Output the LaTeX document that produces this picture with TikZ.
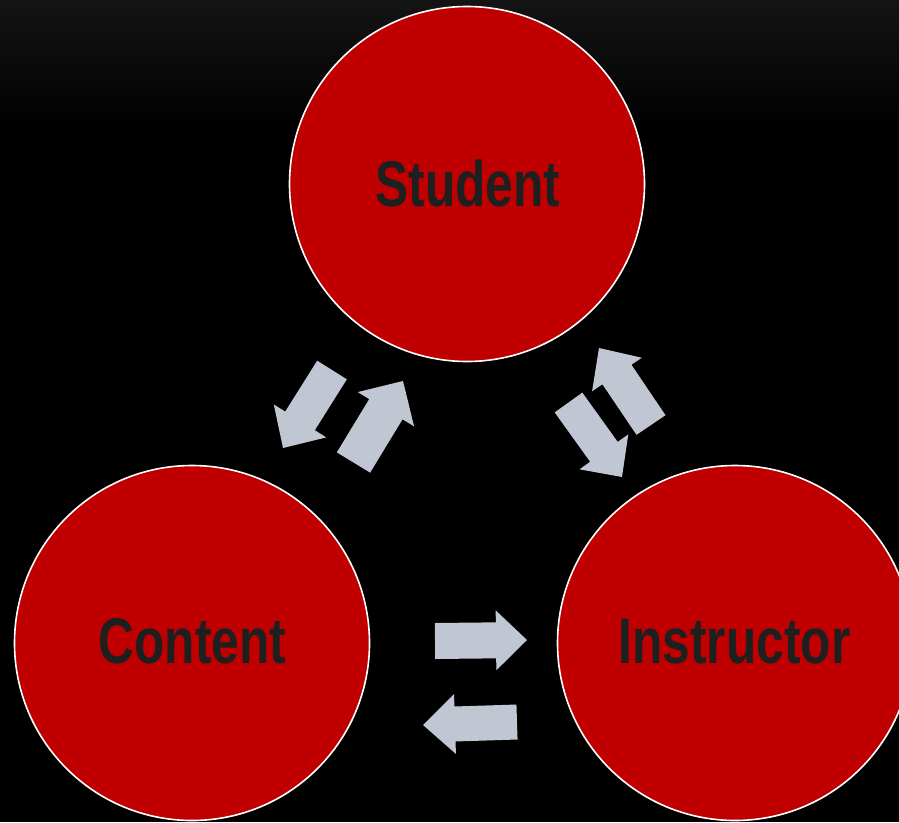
\documentclass[tikz,border=0pt]{standalone}
\usepackage{fontspec}
\newfontfamily\labfont[FakeStretch=0.77]{Liberation Sans}
\usetikzlibrary{calc}
\definecolor{circred}{RGB}{192,0,0}
\definecolor{arrowgray}{RGB}{192,199,210}
\definecolor{labgray}{RGB}{30,32,32}
\definecolor{topgray}{RGB}{20,20,20}
\tikzset{
  circ/.style={circle, minimum size=355pt, inner sep=0pt, fill=circred, draw=white, line width=1.6pt},
  lab/.style={anchor=base, text=labgray, font=\labfont\bfseries\fontsize{64.5}{70}\selectfont},
  blockarrow/.style={fill=arrowgray, draw=none}
}
% #1 tail, #2 tip, #3 shaft half width, #4 head half width, #5 head length
\newcommand\blockarr[5]{%
  \fill[blockarrow]
    ($(#1)!#3!90:(#2)$) --
    ($($(#2)!#5!(#1)$)!#3!-90:(#1)$) --
    ($($(#2)!#5!(#1)$)!#4!-90:(#1)$) --
    (#2) --
    ($($(#2)!#5!(#1)$)!#4!90:(#1)$) --
    ($($(#2)!#5!(#1)$)!#3!90:(#1)$) --
    ($(#1)!#3!-90:(#2)$) -- cycle;}
\begin{document}
\begin{tikzpicture}[x=1pt,y=-1pt]
\useasboundingbox (0,0) rectangle (899,822);
\clip (0,0) rectangle (899,822);
\fill[black] (0,0) rectangle (899,822);
\shade[top color=topgray, bottom color=black] (0,0) rectangle (899,130);
\node[circ] (student) at (467,184) {};
\node[circ] (content) at (192,643) {};
\node[circ] (instructor) at (735,643) {};
\node[lab] (studentlab) at (468,206) {Student};
\node[lab] (contentlab) at (192.5,663) {Content};
\node[lab] (instructorlab) at (734.5,663) {Instructor};
% arrows
\coordinate (a1s) at (332,370); \coordinate (a1t) at (283,448);
\coordinate (a2s) at (353.5,462.5); \coordinate (a2t) at (403,381);
\coordinate (a3s) at (651,425); \coordinate (a3t) at (599,348);
\coordinate (a4s) at (568.5,402.5); \coordinate (a4t) at (622,477);
\coordinate (a5s) at (435,641); \coordinate (a5t) at (527,640);
\coordinate (a6s) at (517,722); \coordinate (a6t) at (423,725);
\blockarr{a1s}{a1t}{17.5pt}{31pt}{32pt}
\blockarr{a2s}{a2t}{19.5pt}{33pt}{33pt}
\blockarr{a3s}{a3t}{17.5pt}{30pt}{32pt}
\blockarr{a4s}{a4t}{17pt}{30pt}{31pt}
\blockarr{a5s}{a5t}{18pt}{30pt}{31pt}
\blockarr{a6s}{a6t}{17.5pt}{30pt}{32pt}
\end{tikzpicture}
\end{document}
